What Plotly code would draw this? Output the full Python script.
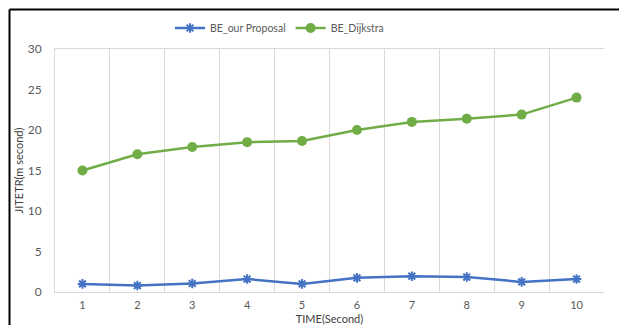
import plotly.graph_objects as go

# Time in seconds (categories) and jitter values per routing scheme
time_labels = ["1", "2", "3", "4", "5", "6", "7", "8", "9", "10"]
be_our_proposal = [1.0, 0.8, 1.05, 1.6, 1.0, 1.75, 1.95, 1.85, 1.25, 1.6]
be_dijkstra = [15.0, 17.0, 17.9, 18.5, 18.65, 20.0, 21.0, 21.4, 21.9, 24.0]
y_ticks = [0, 5, 10, 15, 20, 25, 30]

BLUE = "#4472C4"
GREEN = "#70AD47"
GRID = "#D9D9D9"
TEXT = "#595959"
FONT = "Lato, 'Open Sans', sans-serif"

fig = go.Figure()
fig.add_trace(go.Scatter(
    x=time_labels, y=be_our_proposal, name="BE_our Proposal",
    mode="lines+markers",
    line=dict(color=BLUE, width=2.5),
    marker=dict(symbol="asterisk-open", size=8, color=BLUE,
                line=dict(color=BLUE, width=2)),
))
fig.add_trace(go.Scatter(
    x=time_labels, y=be_dijkstra, name="BE_Dijkstra",
    mode="lines+markers",
    line=dict(color=GREEN, width=2.5),
    marker=dict(symbol="circle", size=10, color=GREEN),
))

# Left and top frame lines of the chart area
pw, ph = 549.0, 243.0
fx = (9.5 - 55) / pw
fy = (292 - 9.5) / ph
frame = dict(type="line", xref="paper", yref="paper",
             line=dict(color="black", width=2), layer="above")
fig.add_shape(x0=fx, x1=fx, y0=-0.2, y1=fy, **frame)
fig.add_shape(x0=fx, x1=1.1, y0=fy, y1=fy, **frame)

fig.update_layout(
    width=619, height=325,
    margin=dict(l=55, r=15, t=49, b=33),
    paper_bgcolor="white", plot_bgcolor="white",
    font=dict(family=FONT, size=11, color=TEXT),
    showlegend=True,
    legend=dict(orientation="h", x=(170 - 55) / pw, xanchor="left",
                y=(292 - 28) / ph, yanchor="middle",
                font=dict(size=10.5, color=TEXT), itemwidth=30,
                tracegroupgap=0, bgcolor="rgba(0,0,0,0)"),
    xaxis=dict(
        type="category", range=[-0.5, 9.5], automargin=False,
        tickson="boundaries", showgrid=True, gridcolor=GRID, gridwidth=1,
        showline=True, linecolor=GRID, linewidth=1, mirror=True,
        ticks="", ticklabelstandoff=3,
        tickfont=dict(size=11, color=TEXT),
        title=dict(text="TIME(Second)", standoff=5,
                   font=dict(size=11, color="#404040")),
        zeroline=False,
    ),
    yaxis=dict(
        range=[0, 30], tickvals=y_ticks, automargin=False,
        showgrid=False, zeroline=False,
        showline=True, linecolor=GRID, linewidth=1,
        ticks="", ticklabelstandoff=10,
        tickfont=dict(size=12, color=TEXT),
        title=dict(text="JITETR(m second)", standoff=1,
                   font=dict(size=11, color="#404040")),
    ),
)

fig.write_html("out.html")
